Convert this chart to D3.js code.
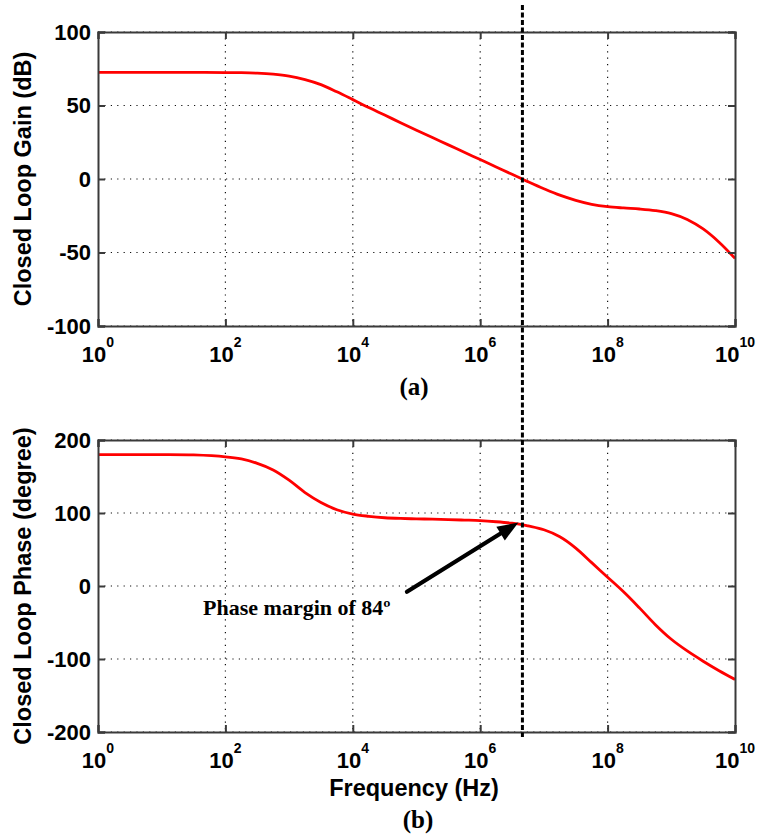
<!DOCTYPE html>
<html>
<head>
<meta charset="utf-8">
<script src="https://cdn.jsdelivr.net/npm/d3@7/dist/d3.min.js"></script>
<style>
  html, body { margin: 0; padding: 0; background: #fff; }
  svg { display: block; }
</style>
</head>
<body>
<svg id="chart" width="758" height="838"></svg>
<script>
// ---- Data ----
// frequency as decade exponents: f = 10^exp (Hz)
const freqExp = [0, 0.5, 1, 1.5, 2, 2.25, 2.5, 2.75, 3, 3.25, 3.5, 3.75, 4, 4.25, 4.5, 4.75, 5, 5.25, 5.5, 5.75, 6, 6.25, 6.5, 6.66, 6.75, 7, 7.25, 7.5, 7.75, 8, 8.25, 8.5, 8.75, 9, 9.25, 9.5, 9.75, 10];
const gainDb  = [72.5, 72.5, 72.5, 72.5, 72.4, 72.3, 72, 71.3, 70, 67.6, 64.2, 59.3, 54, 48.6, 43.5, 38.3, 33.2, 28.2, 23.2, 18.2, 13.2, 8.2, 3.2, 0, -1.8, -6.6, -11, -14.5, -17.2, -18.8, -19.7, -20.4, -21.5, -23.5, -27.5, -34, -43, -54];
const phaseDeg = [180, 180, 180, 179.5, 177, 174, 168, 159, 145, 128, 114.5, 104.5, 98.5, 95.5, 93.5, 92.5, 92, 91.5, 91, 90.3, 89.5, 88, 86, 84, 82.3, 77, 67.5, 52, 32, 12, -8, -30, -53, -73, -89, -103, -116, -128];

const xTickExp = [0, 2, 4, 6, 8, 10];
const gainTicks = [-100, -50, 0, 50, 100];
const phaseTicks = [-200, -100, 0, 100, 200];

const crossoverFreq = 4.6e6;          // unity-gain frequency (dashed line)
const phaseMarginLabel = "Phase margin of 84º";
const arrowFrom = { f: 10 ** 4.85, v: -8 };
const arrowTo   = { f: 10 ** 6.6,  v: 87 };
const labelAt   = { f: 10 ** 1.65, v: -40 };

// ---- Layout ----
const svg = d3.select("#chart");
const X0 = 98, X1 = 735;
const x = d3.scaleLog().domain([1, 1e10]).range([X0, X1]);
const yGain = d3.scaleLinear().domain([-100, 100]).range([326, 32]);
const yPhase = d3.scaleLinear().domain([-200, 200]).range([732, 440]);

const sans = "'Liberation Sans', Arial, Helvetica, sans-serif";
const serif = "'Liberation Serif', 'Times New Roman', Times, serif";
const gridColor = "#111";
const axisColor = "#3a3a3a";

const gainData = freqExp.map((e, i) => ({ f: 10 ** e, v: gainDb[i] }));
const phaseData = freqExp.map((e, i) => ({ f: 10 ** e, v: phaseDeg[i] }));

function panel(y, ticks, data, ylabel, clipId) {
  const g = svg.append("g");
  const [yb, yt] = y.range();

  // grid
  g.append("g").selectAll("line").data(xTickExp.slice(1, -1)).join("line")
    .attr("x1", d => x(10 ** d)).attr("x2", d => x(10 ** d))
    .attr("y1", yt).attr("y2", yb)
    .attr("stroke", gridColor).attr("stroke-width", 1.2)
    .attr("stroke-dasharray", "1.2,5.2");
  g.append("g").selectAll("line").data(ticks).join("line")
    .attr("x1", X0).attr("x2", X1)
    .attr("y1", d => y(d)).attr("y2", d => y(d))
    .attr("stroke", gridColor).attr("stroke-width", 1.2)
    .attr("stroke-dasharray", "1.2,5.2");

  // curve
  svg.append("clipPath").attr("id", clipId).append("rect")
    .attr("x", X0).attr("y", yt).attr("width", X1 - X0).attr("height", yb - yt);
  const line = d3.line().x(d => x(d.f)).y(d => y(d.v)).curve(d3.curveCatmullRom.alpha(0.5));
  g.append("path").datum(data)
    .attr("clip-path", `url(#${clipId})`)
    .attr("d", line).attr("fill", "none")
    .attr("stroke", "#ff0000").attr("stroke-width", 2.8)
    .attr("stroke-linejoin", "round");

  // axes (box with inner ticks)
  const axL = d3.axisLeft(y).tickValues(ticks).tickSize(-7).tickFormat("");
  const axR = d3.axisRight(y).tickValues(ticks).tickSize(-7).tickFormat("");
  const axB = d3.axisBottom(x).tickValues(xTickExp.map(e => 10 ** e)).tickSize(-7).tickFormat("");
  const axT = d3.axisTop(x).tickValues(xTickExp.map(e => 10 ** e)).tickSize(-7).tickFormat("");
  [[axL, `translate(${X0},0)`], [axR, `translate(${X1},0)`],
   [axB, `translate(0,${yb})`], [axT, `translate(0,${yt})`]].forEach(([ax, tr]) => {
    const a = g.append("g").attr("transform", tr).call(ax);
    a.select(".domain").attr("stroke", axisColor).attr("stroke-width", 2);
    a.selectAll(".tick line").attr("stroke", axisColor).attr("stroke-width", 2);
  });

  // y tick labels
  g.append("g").selectAll("text").data(ticks).join("text")
    .attr("x", X0 - 7).attr("y", d => y(d)).attr("dy", "0.36em")
    .attr("text-anchor", "end")
    .attr("font-family", sans).attr("font-weight", "bold").attr("font-size", 22)
    .attr("fill", "#000")
    .text(d => d);

  // x tick labels 10^n
  const xl = g.append("g").selectAll("text").data(xTickExp).join("text")
    .attr("x", d => x(10 ** d)).attr("y", yb + 36)
    .attr("text-anchor", "middle")
    .attr("font-family", sans).attr("font-weight", "bold").attr("fill", "#000");
  xl.append("tspan").attr("font-size", 22).text("10");
  xl.append("tspan").attr("font-size", 14).attr("dy", -15).text(d => d);

  // y label
  g.append("text")
    .attr("transform", `translate(31,${(yt + yb) / 2}) rotate(-90)`)
    .attr("text-anchor", "middle")
    .attr("font-family", sans).attr("font-weight", "bold").attr("font-size", 23.5)
    .attr("fill", "#000")
    .text(ylabel);
  return g;
}

panel(yGain, gainTicks, gainData, "Closed Loop Gain (dB)", "clipA");
panel(yPhase, phaseTicks, phaseData, "Closed Loop Phase (degree)", "clipB");

// sub-captions
svg.append("text").attr("x", 414).attr("y", 395).attr("text-anchor", "middle")
  .attr("font-family", serif).attr("font-weight", "bold").attr("font-size", 25).text("(a)");
svg.append("text").attr("x", 418).attr("y", 828).attr("text-anchor", "middle")
  .attr("font-family", serif).attr("font-weight", "bold").attr("font-size", 25).text("(b)");

// x label
svg.append("text").attr("x", 414).attr("y", 796).attr("text-anchor", "middle")
  .attr("font-family", sans).attr("font-weight", "bold").attr("font-size", 23.5).text("Frequency (Hz)");

// dashed crossover line
svg.append("line")
  .attr("x1", x(crossoverFreq)).attr("x2", x(crossoverFreq))
  .attr("y1", 5).attr("y2", 737)
  .attr("stroke", "#000").attr("stroke-width", 3)
  .attr("stroke-dasharray", "5,2.5");

// arrow annotation
const ax0 = x(arrowFrom.f), ay0 = yPhase(arrowFrom.v);
const ax1 = x(arrowTo.f), ay1 = yPhase(arrowTo.v);
const ang = Math.atan2(ay1 - ay0, ax1 - ax0);
const headL = 21, headW = 8;
const bx = ax1 - headL * Math.cos(ang), by = ay1 - headL * Math.sin(ang);
svg.append("line")
  .attr("x1", ax0).attr("y1", ay0).attr("x2", bx).attr("y2", by)
  .attr("stroke", "#000").attr("stroke-width", 4.2).attr("stroke-linecap", "round");
svg.append("path")
  .attr("d", `M${ax1},${ay1} L${bx + headW * Math.sin(ang)},${by - headW * Math.cos(ang)} L${bx - headW * Math.sin(ang)},${by + headW * Math.cos(ang)} Z`)
  .attr("fill", "#000");

svg.append("text").attr("x", x(labelAt.f)).attr("y", yPhase(labelAt.v))
  .attr("font-family", serif).attr("font-weight", "bold").attr("font-size", 22)
  .text(phaseMarginLabel);
</script>
</body>
</html>
